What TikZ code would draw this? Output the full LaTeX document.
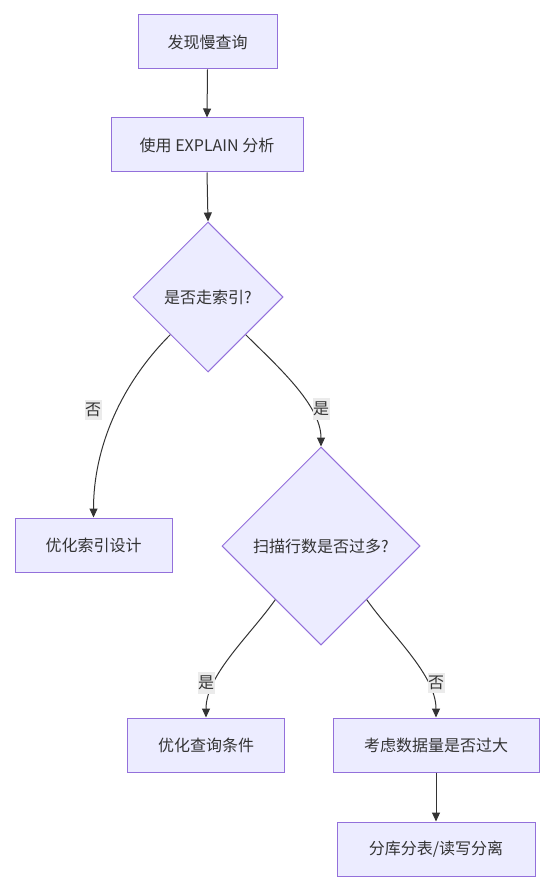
\documentclass[tikz,border=0pt]{standalone}
\usepackage{fontspec}
\setmainfont{Noto Sans CJK SC}
\usetikzlibrary{shapes.geometric,arrows.meta,calc}
\definecolor{nodefill}{HTML}{ECECFF}
\definecolor{nodedraw}{HTML}{9370DB}
\definecolor{edgecol}{HTML}{333333}
\definecolor{lblfill}{HTML}{EBEBEB}
\definecolor{txtcol}{HTML}{333333}
\tikzset{
  procbox/.style={rectangle,draw=nodedraw,fill=nodefill,line width=1pt,minimum height=54pt,inner sep=0pt,text=txtcol,font=\fontsize{16}{19}\selectfont},
  decbox/.style={diamond,aspect=1,draw=nodedraw,fill=nodefill,line width=1pt,inner sep=0pt,text=txtcol,font=\fontsize{16}{19}\selectfont},
  flow/.style={draw=edgecol,line width=1pt,-{Triangle[length=9pt,width=8pt]}},
  elabel/.style={fill=lblfill,inner xsep=0.5pt,inner ysep=3.5pt,text=txtcol,font=\fontsize{16}{19}\selectfont}
}
\begin{document}
\begin{tikzpicture}[x=1pt,y=-1pt]
\useasboundingbox (0,0) rectangle (555,890);
\node[procbox,minimum width=139pt] (a) at (207.5,42) {发现慢查询};
\node[procbox,minimum width=192pt] (b) at (207,145) {使用 EXPLAIN 分析};
\node[decbox,minimum width=150pt,minimum height=150pt] (c) at (208,297) {是否走索引?};
\node[procbox,minimum width=157pt] (d) at (93.5,545) {优化索引设计};
\node[decbox,minimum width=198pt,minimum height=198pt] (e) at (321,546) {扫描行数是否过多?};
\node[procbox,minimum width=157pt] (f) at (206,745) {优化查询条件};
\node[procbox,minimum width=206pt] (g) at (436,745) {考虑数据量是否过大};
\node[procbox,minimum width=198pt] (h) at (436,849) {分库分表/读写分离};

\coordinate (cl) at ($(c.west)!0.5!(c.south)$);
\coordinate (cr) at ($(c.east)!0.5!(c.south)$);
\coordinate (el) at ($(e.west)!0.54!(e.south)$);
\coordinate (er) at ($(e.east)!0.54!(e.south)$);

\draw[flow] (a.south) -- (b.north);
\draw[flow] (b.south) -- (c.north);
\draw[flow] (cl) to[out=225,in=90,looseness=0.9] (d.north);
\draw[flow] (cr) to[out=-45,in=90,looseness=0.8] (e.north);
\draw[flow] (el) to[out=235,in=90,looseness=0.8] (f.north);
\draw[flow] (er) to[out=-55,in=90,looseness=0.8] (g.north);
\draw[flow] (g.south) -- (h.north);

\node[elabel] (l1) at (93,410) {否};
\node[elabel] (l2) at (321,409) {是};
\node[elabel] (l3) at (206,683) {是};
\node[elabel] (l4) at (436,683) {否};
\end{tikzpicture}
\end{document}
